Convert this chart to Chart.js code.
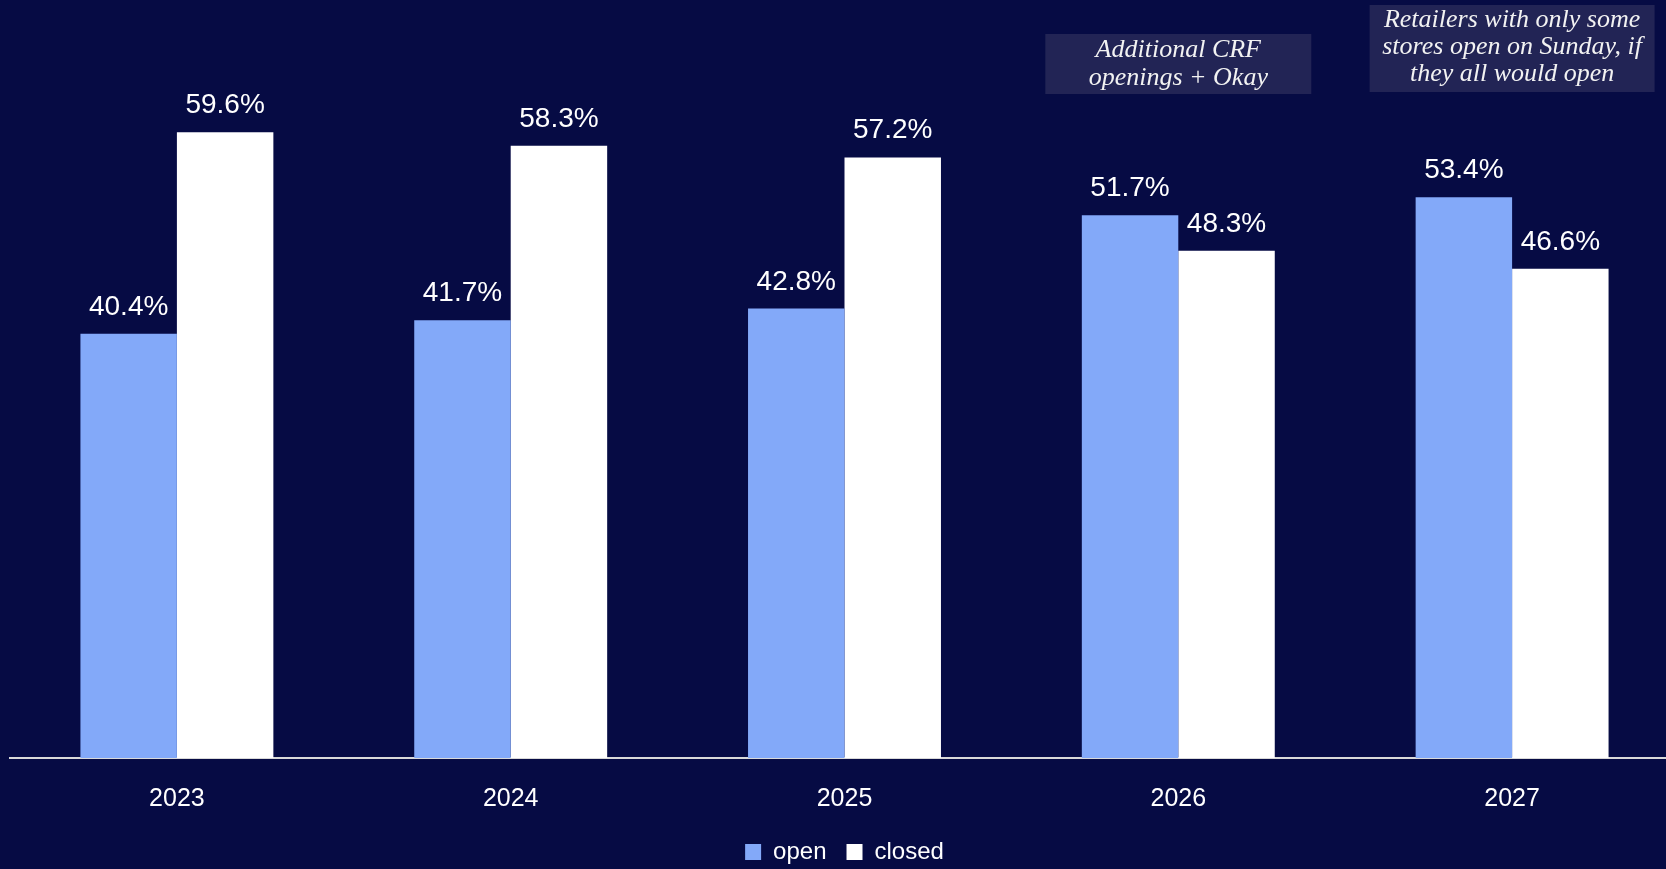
<!DOCTYPE html>
<html>
<head>
<meta charset="utf-8">
<title>Sunday opening share</title>
<script src="https://cdn.jsdelivr.net/npm/chart.js@4/dist/chart.umd.min.js"></script>
<style>
  html, body { margin: 0; padding: 0; background: #060B44; overflow: hidden; }
  #wrap { width: 1666px; height: 869px; overflow: hidden; }
  canvas { display: block; }
</style>
</head>
<body>
<div id="wrap"><canvas id="chart" width="1680" height="874"></canvas></div>
<script>
// Years on the x axis
const years = ['2023', '2024', '2025', '2026', '2027'];
// Share of shops open / closed on Sunday (%)
const openShare = [40.4, 41.7, 42.8, 51.7, 53.4];
const closedShare = [59.6, 58.3, 57.2, 48.3, 46.6];
// Notes shown above the later years
const noteYears = ['2026', '2027'];
const noteLines = [
  ['Additional CRF', 'openings + Okay'],
  ['Retailers with only some', 'stores open on Sunday, if', 'they all would open']
];

const OPEN_COLOR = '#83A9F9';
const CLOSED_COLOR = '#FFFFFF';

// Percentage labels above every bar
const valueLabels = {
  id: 'valueLabels',
  afterDatasetsDraw(chart) {
    const ctx = chart.ctx;
    ctx.save();
    ctx.font = '28px "Liberation Sans", Arial, sans-serif';
    ctx.fillStyle = '#FFFFFF';
    ctx.textAlign = 'center';
    ctx.textBaseline = 'alphabetic';
    chart.data.datasets.forEach((ds, di) => {
      const meta = chart.getDatasetMeta(di);
      meta.data.forEach((bar, i) => {
        ctx.fillText(ds.data[i].toFixed(1) + '%', bar.x, bar.y - 19);
      });
    });
    ctx.restore();
  }
};

// Boxed italic notes centred over a year
const notes = {
  id: 'notes',
  afterDraw(chart, args, opts) {
    const ctx = chart.ctx;
    const x = chart.scales.x;
    ctx.save();
    opts.items.forEach(item => {
      const cx = x.getPixelForValue(years.indexOf(item.year));
      ctx.fillStyle = '#222455';
      ctx.fillRect(cx - item.width / 2, item.top, item.width, item.height);
      ctx.fillStyle = '#F2F2F2';
      ctx.font = 'italic 26px "Liberation Serif", "Times New Roman", serif';
      ctx.textAlign = 'center';
      ctx.textBaseline = 'alphabetic';
      item.lines.forEach((line, li) => {
        ctx.fillText(line, cx, item.firstBaseline + li * item.lineHeight);
      });
    });
    ctx.restore();
  }
};

Chart.defaults.font.family = '"Liberation Sans", Arial, sans-serif';
Chart.defaults.color = '#FFFFFF';

new Chart(document.getElementById('chart'), {
  type: 'bar',
  data: {
    labels: years,
    datasets: [
      { label: 'open', data: openShare, backgroundColor: OPEN_COLOR, borderWidth: 0 },
      { label: 'closed', data: closedShare, backgroundColor: CLOSED_COLOR, borderWidth: 0 }
    ]
  },
  options: {
    responsive: false,
    animation: false,
    layout: { padding: { top: 23, left: 10, right: 1, bottom: 0 } },
    datasets: { bar: { barPercentage: 1, categoryPercentage: 0.578 } },
    scales: {
      x: {
        grid: { display: false, drawTicks: false },
        border: { display: true, color: '#D9D9D9', width: 2 },
        ticks: { color: '#FFFFFF', font: { size: 25 }, padding: 26 },
        afterFit(scale) { scale.height = 62; }
      },
      y: {
        display: false,
        min: 0,
        max: 70
      }
    },
    plugins: {
      legend: {
        position: 'bottom',
        labels: {
          color: '#FFFFFF',
          font: { size: 24 },
          boxWidth: 16,
          boxHeight: 16,
          padding: 20
        }
      },
      tooltip: { enabled: false },
      notes: {
        items: [
          { year: noteYears[0], lines: noteLines[0], width: 266, top: 34, height: 60, firstBaseline: 57, lineHeight: 28 },
          { year: noteYears[1], lines: noteLines[1], width: 285, top: 5, height: 87, firstBaseline: 27, lineHeight: 27 }
        ]
      }
    }
  },
  plugins: [valueLabels, notes]
});
</script>
</body>
</html>
